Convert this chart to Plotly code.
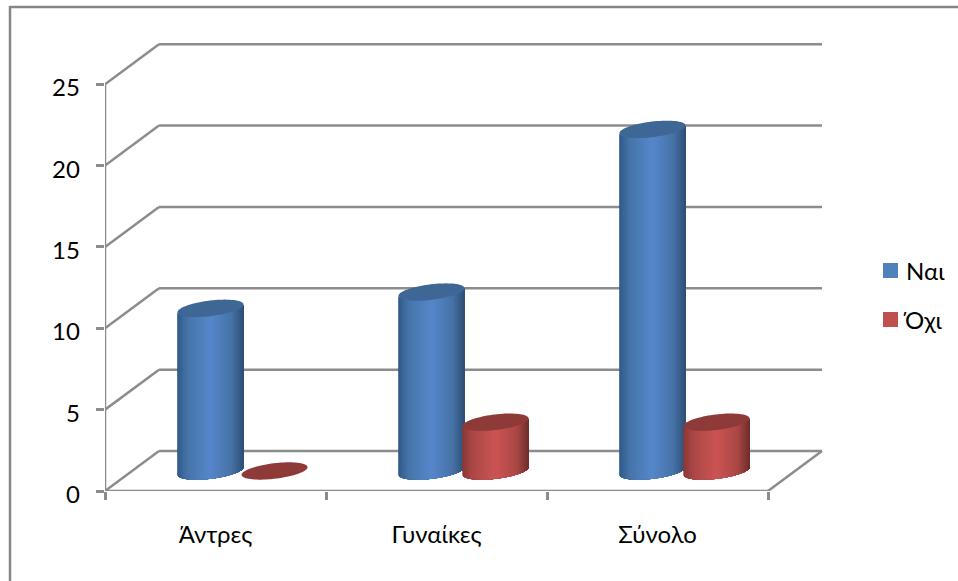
import numpy as np
import plotly.graph_objects as go

# Chart data
categories = ["Άντρες", "Γυναίκες", "Σύνολο"]
series_names = ["Ναι", "Όχι"]
yes_values = [10, 11, 21]
no_values = [0, 3, 3]
y_ticks = [0, 5, 10, 15, 20, 25]

# Colour ramps across a cylinder wall, left edge to right edge
BLUE = dict(key="#4F81BD", top="#3F6795",
            stops=[(0, "#30598A"), (0.15, "#4674A8"), (0.5, "#5587CB"), (0.82, "#4672A6"), (1, "#2F4F76")])
RED = dict(key="#C0504D", top="#8E3A38",
           stops=[(0, "#8A3836"), (0.15, "#AA4846"), (0.5, "#CB5453"), (0.82, "#AA4745"), (1, "#6E2E2C")])
GREY = "#8C8C8C"

# Pixel layout of the plot area
W, H = 958, 581
LEFT, RIGHT, TOP, BOTTOM = 105, 823, 43, 491
PX_PER_CAT = 221.0
PX_PER_VAL = 16.27

# Oblique depth of the floor, in data units
DEPTH_X = 54 / PX_PER_CAT
DEPTH_Y = 40 / PX_PER_VAL
# Cylinder cross-section, in data units
RADIUS_X = 33 / PX_PER_CAT
RADIUS_Y = 7.8 / PX_PER_VAL
TILT_Y = 3.8 / PX_PER_VAL
GROUP_OFFSET = 0.145
STRIPS = 44
FONT_SIZE = 24


def hex_rgb(c):
    return np.array([int(c[i:i + 2], 16) for i in (1, 3, 5)], float)


def ramp(stops, f):
    for (f0, c0), (f1, c1) in zip(stops, stops[1:]):
        if f <= f1:
            mix = (f - f0) / (f1 - f0)
            r, g, b = hex_rgb(c0) * (1 - mix) + hex_rgb(c1) * mix
            return f"rgb({r:.0f},{g:.0f},{b:.0f})"
    return stops[-1][1]


def cylinder_traces(cx, value, style):
    traces = []
    base = DEPTH_Y / 2
    top = base + value
    if value > 0:
        # Each slice reaches the right edge, so the next one paints over it and no seams show
        edges = np.linspace(np.pi, 0, STRIPS + 1)
        for t0, t1 in zip(edges[:-1], edges[1:]):
            ts = np.linspace(t0, 0, 40)
            xs = cx + RADIUS_X * np.cos(ts)
            low = TILT_Y * np.cos(ts) - RADIUS_Y * np.sin(ts)
            xp = np.r_[xs, xs[::-1]]
            yp = np.r_[base + low, (top + low)[::-1]]
            mid = (np.cos(t0) + np.cos(t1)) / 2
            shade = ramp(style["stops"], (mid + 1) / 2)
            traces.append(go.Scatter(x=xp, y=yp, mode="none", fill="toself", fillcolor=shade,
                                     hoverinfo="skip", showlegend=False))
    ts = np.linspace(0, 2 * np.pi, 80)
    traces.append(go.Scatter(x=cx + RADIUS_X * np.cos(ts),
                             y=top + TILT_Y * np.cos(ts) + RADIUS_Y * np.sin(ts),
                             mode="none", fill="toself", fillcolor=style["top"],
                             hoverinfo="skip", showlegend=False))
    return traces


fig = go.Figure()

# Cylinders, with each group's red one in front of its blue one
for i in range(len(categories)):
    centre = i + 0.5 + DEPTH_X / 2
    for trace in cylinder_traces(centre - GROUP_OFFSET, yes_values[i], BLUE):
        fig.add_trace(trace)
    for trace in cylinder_traces(centre + GROUP_OFFSET, no_values[i], RED):
        fig.add_trace(trace)

# Oblique wall and floor lines
line = dict(color=GREY, width=2.5)
shapes = []
n_cat = len(categories)
for v in y_ticks:
    shapes.append(dict(type="line", xref="x", yref="y", x0=0, y0=v, x1=DEPTH_X, y1=v + DEPTH_Y, line=line, layer="below"))
    shapes.append(dict(type="line", xref="x", yref="y", x0=DEPTH_X, y0=v + DEPTH_Y,
                       x1=n_cat + DEPTH_X, y1=v + DEPTH_Y, line=line, layer="below"))
shapes.append(dict(type="line", xref="x", yref="y", x0=0, y0=0, x1=0, y1=y_ticks[-1], line=line, layer="below"))
shapes.append(dict(type="line", xref="x", yref="y", x0=0, y0=0, x1=n_cat, y1=0, line=line, layer="below"))
shapes.append(dict(type="line", xref="x", yref="y", x0=n_cat, y0=0, x1=n_cat + DEPTH_X, y1=DEPTH_Y, line=line, layer="below"))

# Outer frame, running off the top-right of the page
px = lambda p: (p - LEFT) / (RIGHT - LEFT)
py = lambda p: (BOTTOM - p) / (BOTTOM - TOP)
frame = dict(color="#868686", width=2.5)
shapes.append(dict(type="line", xref="paper", yref="paper", x0=px(10), y0=py(7), x1=px(W + 5), y1=py(7), line=frame, layer="below"))
shapes.append(dict(type="line", xref="paper", yref="paper", x0=px(10), y0=py(6), x1=px(10), y1=py(H + 5), line=frame, layer="below"))

# Legend keys and labels
annotations = []
key_tops = [263, 312]
label_lefts = [905, 902]
for name, style, ky, lx in zip(series_names, (BLUE, RED), key_tops, label_lefts):
    shapes.append(dict(type="rect", xref="paper", yref="paper", x0=px(883), x1=px(898), y0=py(ky), y1=py(ky + 15),
                       fillcolor=style["key"], line=dict(width=0)))
    annotations.append(dict(text=name, xref="paper", yref="paper", x=px(lx), y=py(ky + 7), xanchor="left",
                            yanchor="middle", showarrow=False, font=dict(size=FONT_SIZE), borderpad=0))

# Value labels sit slightly below their ticks
for v in y_ticks:
    annotations.append(dict(text=str(v), xref="paper", yref="y", x=0, y=v, xanchor="right", yanchor="middle",
                            xshift=-24, yshift=-2.5, showarrow=False, font=dict(size=FONT_SIZE), borderpad=0))

fig.update_layout(
    width=W, height=H, autosize=False,
    margin=dict(l=LEFT, r=W - RIGHT, t=TOP, b=H - BOTTOM, pad=0),
    paper_bgcolor="white", plot_bgcolor="white",
    font=dict(family="Lato, Open Sans, sans-serif", size=FONT_SIZE, color="black"),
    shapes=shapes, annotations=annotations,
    showlegend=False,
    xaxis=dict(range=[0, (RIGHT - LEFT) / PX_PER_CAT], tickvals=[i + 0.5 for i in range(n_cat)],
               ticktext=categories, ticks="", showgrid=False, zeroline=False, showline=False,
               ticklabelstandoff=27,
               minor=dict(tickvals=list(range(n_cat + 1)), ticks="outside", ticklen=8, tickwidth=2.5,
                          tickcolor=GREY, showgrid=False)),
    yaxis=dict(range=[0, (BOTTOM - TOP) / PX_PER_VAL], tickvals=y_ticks, ticks="outside", ticklen=8,
               tickwidth=2.5, tickcolor=GREY, showgrid=False, zeroline=False, showline=False,
               showticklabels=False),
)

fig.write_html("out.html")
